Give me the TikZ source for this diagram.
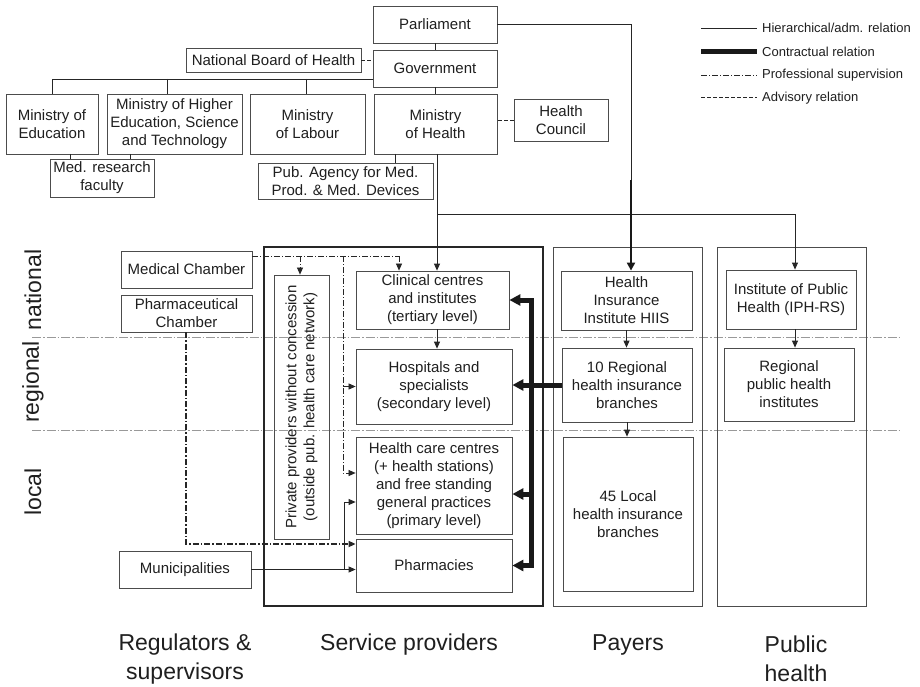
\documentclass[tikz,border=0pt]{standalone}
\usepackage{fontspec}
\setmainfont{Liberation Sans}
\usetikzlibrary{arrows.meta}
\definecolor{boxcol}{gray}{0.3}
\definecolor{sepcol}{gray}{0.6}
\definecolor{txtcol}{gray}{0.12}
\newcommand{\mybox}[7][]{\node[box,#1, minimum width={#5-#3}, minimum height={#6-#4}] (#2) at ({(#3+#5)/2},{(#4+#6)/2}) {#7};}
\begin{document}
\begin{tikzpicture}[x=1pt,y=-1pt,
  box/.style={draw=boxcol, line width=0.8pt, inner sep=1pt, align=center, font=\fontsize{15}{18}\selectfont, text=txtcol},
  hier/.style={line width=0.8pt, draw=black!85},
  arr/.style={-{Triangle[length=7pt,width=6pt]}},
  contr/.style={line width=5pt, draw=black!90},
  carr/.style={-{Triangle[length=11pt,width=11pt]}},
  sup/.style={line width=0.7pt, draw=black!85, dash pattern=on 6pt off 2pt on 1pt off 2pt},
  supthick/.style={line width=1.6pt, draw=black!85, dash pattern=on 6pt off 2pt on 1.5pt off 2pt},
  adv/.style={line width=0.8pt, draw=black!85, dash pattern=on 3.5pt off 2.5pt},
  sep/.style={draw=sepcol, line width=0.7pt, dash pattern=on 9pt off 2pt on 1.5pt off 2pt},
  lbl/.style={inner sep=0pt, text=txtcol},
  leg/.style={lbl, anchor=west, font=\fontsize{13}{15}\selectfont}
]
\fill[white] (0,0) rectangle (920,687);
\useasboundingbox (0,0) rectangle (920,687);

% region separators
\draw[sep] (32,337) -- (900,337);
\draw[sep] (32,430) -- (900,430);

% top hierarchy
\mybox{parl}{373}{6}{497}{43}{Parliament}
\mybox{gov}{373}{50}{497}{87}{Government}
\mybox{nbh}{186}{48}{361}{72}{National Board of Health}
\mybox{minedu}{6}{94}{98}{154}{Ministry of\\Education}
\mybox{minhigh}{107}{94}{242}{154}{Ministry of Higher\\Education, Science\\and Technology}
\mybox{minlab}{250}{94}{365}{154}{Ministry\\of Labour}
\mybox{minhealth}{374}{94}{497}{154}{Ministry\\of Health}
\mybox{hcouncil}{514}{99}{608}{141}{Health\\Council}
\mybox{medres}{50}{159}{154}{197}{Med. research\\faculty}
\mybox{pubag}{258}{163}{433}{199}{Pub. Agency for Med.\\Prod. \& Med. Devices}

% regulators
\mybox{medch}{121}{251}{252}{288}{Medical Chamber}
\mybox{pharmch}{121}{295}{252}{332}{Pharmaceutical\\Chamber}
\mybox{muni}{119}{551}{251}{588}{Municipalities}

% columns
\mybox[draw=black!85, line width=2pt]{spbox}{264}{247}{543}{606}{}
\mybox{payers}{553}{247}{702}{606}{}
\mybox{pubh}{717}{247}{866}{606}{}

% service providers
\node[box, rotate=90, minimum width=264, minimum height=55] (private) at (301.5,407) {Private providers without concession\\(outside pub. health care network)};
\mybox{clinical}{356}{271}{509}{329}{Clinical centres\\and institutes\\(tertiary level)}
\mybox{hosp}{356}{349}{512}{424}{Hospitals and\\specialists\\(secondary level)}
\mybox{hcc}{356}{437}{512}{534}{Health care centres\\(+ health stations)\\and free standing\\general practices\\(primary level)}
\mybox{pharmacies}{356}{539}{512}{592}{Pharmacies}

% payers
\mybox{hiis}{561}{271}{692}{330}{Health\\Insurance\\Institute HIIS}
\mybox{reg}{562}{348}{692}{422}{10 Regional\\health insurance\\branches}
\mybox{local}{563}{437}{693}{591}{45 Local\\health insurance\\branches}

% public health
\mybox{iph}{726}{270}{856}{329}{Institute of Public\\Health (IPH-RS)}
\mybox{regph}{724}{348}{854}{421}{Regional\\public health\\institutes}

% ---- connectors: hierarchy
\coordinate (g0) at (373,79);
\coordinate (g1) at (52,79);
\coordinate (g2) at (167,79);
\coordinate (g3) at (306,79);
\draw[hier] (parl) -- (gov);
\draw[hier] (gov.south) -- (gov.south |- minhealth.north);
\draw[hier] (g0) -- (g1) -- (g1 |- minedu.north);
\draw[hier] (g2) -- (g2 |- minhigh.north);
\draw[hier] (g3) -- (g3 |- minlab.north);

\coordinate (e1) at (70,154);
\coordinate (e2) at (130,154);
\coordinate (k1) at (395,154);
\draw[hier] (e1) -- (e1 |- medres.north);
\draw[hier] (e2) -- (e2 |- medres.north);
\draw[hier] (k1) -- (k1 |- pubag.north);

\draw[adv] (nbh.east) -- (nbh.east -| gov.west);
\draw[adv] (hcouncil.west) -- (hcouncil.west -| minhealth.east);

\coordinate (h0) at (437,154);
\coordinate (h1) at (437,214);
\coordinate (h2) at (795,214);
\draw[hier,arr] (h0) -- (h1 |- clinical.north);
\draw[hier,arr] (h1) -- (h2) -- (h2 |- iph.north);
\draw[hier,arr] (h1 |- clinical.south) -- (h1 |- hosp.north);
\draw[hier,arr] (h2 |- iph.south) -- (h2 |- regph.north);

\coordinate (q1) at (631,24);
\coordinate (q2) at (631,180);
\draw[hier] (parl.east |- q1) -- (q1) -- (q2);
\draw[line width=2.6pt, draw=black!90, -{Triangle[length=8pt,width=8pt]}] (q2) -- (q2 |- hiis.north);
\draw[hier,arr] (hiis.south) -- (hiis.south |- reg.north);
\draw[hier,arr] (reg.south) -- (reg.south |- local.north);

% ---- contractual
\coordinate (cv) at (531,420);
\coordinate (chcc) at (531,494);
\draw[contr, {Triangle[length=11pt,width=11pt]}-{Triangle[length=11pt,width=11pt]}] (clinical.east) -| (cv) |- (pharmacies.east);
\draw[contr, carr] (chcc) -- (chcc -| hcc.east);
\draw[contr, carr] (reg.west) -- (reg.west -| hosp.east);

% ---- professional supervision
\coordinate (m1) at (300,256);
\coordinate (m2) at (343,256);
\coordinate (m3) at (399,256);
\coordinate (mh) at (343,473);
\draw[sup] (medch.east |- m1) -- (m3);
\draw[sup,arr] (m3) -- (m3 |- clinical.north);
\draw[sup,arr] (m1) -- (m1 |- private.east);
\draw[sup,arr] (m2) -- (mh) -- (mh -| hcc.west);
\draw[sup,arr] (m2 |- hosp.west) -- (hosp.west);

\coordinate (p1) at (186,544);
\draw[supthick,arr] (pharmch.south -| p1) -- (p1) -- (p1 -| pharmacies.west);

% ---- municipalities
\coordinate (mu1) at (344,569.5);
\coordinate (mu2) at (344,502);
\draw[hier,arr] (muni.east) -- (muni.east -| pharmacies.west);
\draw[hier,arr] (mu1) -- (mu2) -- (mu2 -| hcc.west);

% ---- legend
\draw[hier] (701,28) -- (757,28);
\draw[line width=5pt, draw=black!90] (701,52) -- (757,52);
\draw[sup] (701,75) -- (757,75);
\draw[adv, line width=1pt] (701,98) -- (757,98);
\node[leg] (l1) at (762,28) {Hierarchical/adm. relation};
\node[leg] (l2) at (762,52) {Contractual relation};
\node[leg] (l3) at (762,75) {Professional supervision};
\node[leg] (l4) at (762,98) {Advisory relation};

% ---- side labels
\node[lbl, rotate=90, font=\fontsize{23}{27}\selectfont] (lnat) at (33,290) {national};
\node[lbl, rotate=90, font=\fontsize{23}{27}\selectfont] (lreg) at (33,382) {regional};
\node[lbl, rotate=90, font=\fontsize{23}{27}\selectfont] (lloc) at (33,492) {local};

% ---- bottom labels
\node[lbl, align=center, font=\fontsize{23}{29}\selectfont] (breg) at (185,659) {Regulators \&\\supervisors};
\node[lbl, font=\fontsize{23}{29}\selectfont] (bsp) at (409,645) {Service providers};
\node[lbl, font=\fontsize{23}{29}\selectfont] (bpay) at (628,645) {Payers};
\node[lbl, align=center, font=\fontsize{23}{29}\selectfont] (bph) at (796,659) {Public\\health};
\end{tikzpicture}
\end{document}
